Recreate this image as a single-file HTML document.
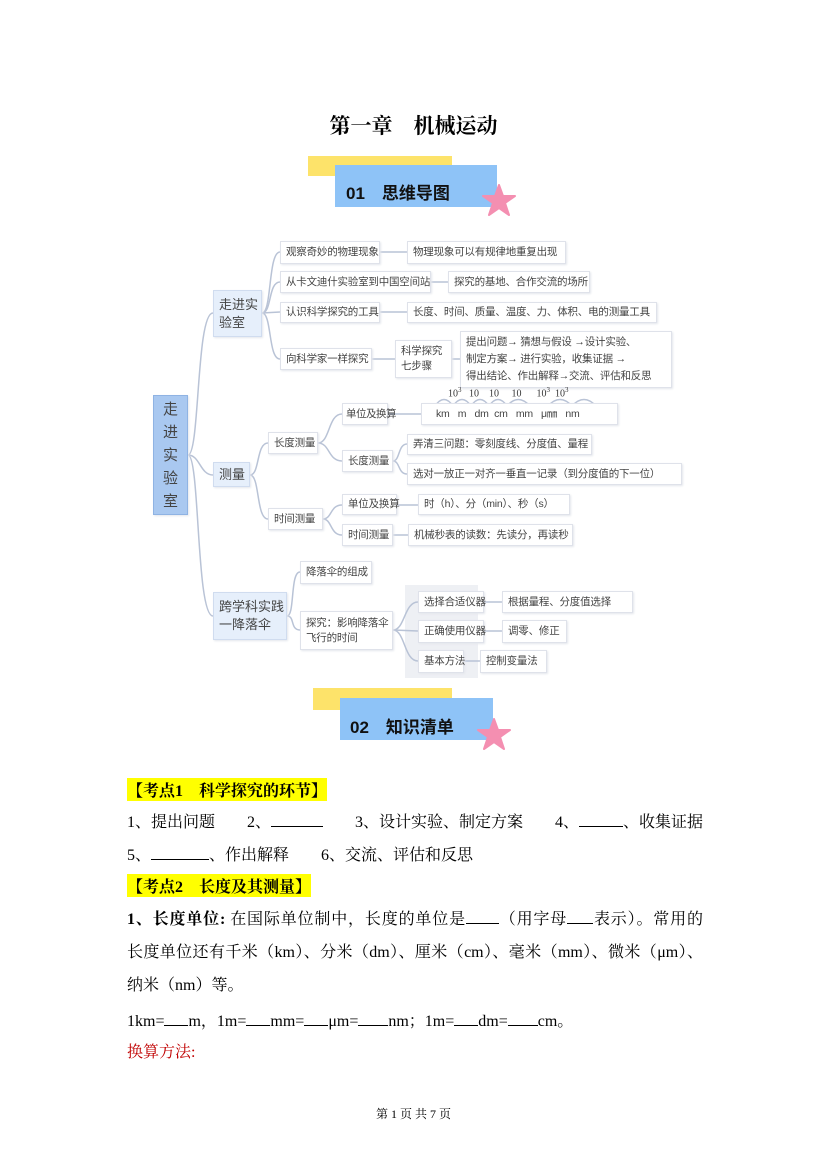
<!DOCTYPE html>
<html><head><meta charset="utf-8"><style>
body{margin:0;background:#fff;}
#p{position:relative;width:827px;height:1169px;overflow:hidden;font-family:"Liberation Serif","Noto Serif CJK SC",serif;color:#000;}
.b{position:absolute;box-sizing:border-box;border:1px solid #dfe2ea;background:#fff;box-shadow:1px 1px 2px #e4e6ec;font-family:"Liberation Sans","Noto Sans CJK SC",sans-serif;font-size:10.5px;color:#444;display:flex;align-items:center;padding-left:5px;line-height:15px;white-space:nowrap;letter-spacing:-0.2px;}
.l1{background:#e6effb;border-color:#d0dcef;font-size:13px;line-height:18px;letter-spacing:0;}
.t{position:absolute;font-size:16px;white-space:nowrap;font-family:"Liberation Serif","Noto Serif CJK SC",serif;}
.j{text-align:justify;text-align-last:justify;width:576px;}
.hl{background:#ffff00;font-weight:bold;}
.u{display:inline-block;border-bottom:1px solid #000;height:14px;vertical-align:baseline;}
</style></head><body><div id="p">
<div class="t" style="left:0;width:827px;text-align:center;top:110px;font-size:21px;font-weight:bold;">第一章　机械运动</div>

<div style="position:absolute;left:308px;top:156px;width:144px;height:20px;background:#fde36a;"></div>
<div style="position:absolute;left:335px;top:165px;width:162px;height:42px;background:#8ec3f7;"></div>
<div style="position:absolute;left:346px;top:179px;font:bold 17px 'Liberation Sans','Noto Sans CJK SC',sans-serif;color:#111;">01　思维导图</div>
<svg style="position:absolute;left:482px;top:184px" width="34" height="34" viewBox="0 0 34 34"><polygon points="17,1 21,12 33,12 23,19 27,31 17,24 7,31 11,19 1,12 13,12" fill="#f48fb1" stroke="#f48fb1" stroke-linejoin="round" stroke-width="2"/></svg>

<div style="position:absolute;left:313px;top:688px;width:139px;height:22px;background:#fde36a;"></div>
<div style="position:absolute;left:340px;top:698px;width:153px;height:42px;background:#8ec3f7;"></div>
<div style="position:absolute;left:350px;top:713px;font:bold 17px 'Liberation Sans','Noto Sans CJK SC',sans-serif;color:#111;">02　知识清单</div>
<svg style="position:absolute;left:477px;top:718px" width="34" height="34" viewBox="0 0 34 34"><polygon points="17,1 21,12 33,12 23,19 27,31 17,24 7,31 11,19 1,12 13,12" fill="#f48fb1" stroke="#f48fb1" stroke-linejoin="round" stroke-width="2"/></svg>

<div style="position:absolute;left:405px;top:585px;width:73px;height:93px;background:#eef0f4;"></div>

<svg style="position:absolute;left:0;top:0" width="827" height="700" fill="none" stroke="#b9c3d6" stroke-width="1.5">
<path d="M188 455 C200 455,196 313,213 313"/><path d="M188 455 C200 455,200 475,213 475"/><path d="M188 455 C200 455,196 616,213 616"/>
<path d="M262 313 C272 313,268 252,280 252"/><path d="M262 313 C272 313,268 282,280 282"/><path d="M262 313 L280 312"/><path d="M262 313 C272 313,268 359,280 359"/>
<path d="M250 475 C260 475,256 443,268 443"/><path d="M250 475 C260 475,256 519,268 519"/>
<path d="M318 443 C330 443,328 414,342 414"/><path d="M318 443 C330 443,328 461,342 461"/>
<path d="M393 461 C400 461,398 444,407 444"/><path d="M393 461 C400 461,398 474,407 474"/>
<path d="M323 519 C332 519,330 505,342 505"/><path d="M323 519 C332 519,330 535,342 535"/>
<path d="M287 616 C295 616,290 572,300 572"/><path d="M287 616 C295 616,290 630,300 630"/>
<path d="M393 630 C405 630,404 602,418 602"/><path d="M393 630 L418 631"/><path d="M393 630 C405 630,404 661,418 661"/>
<path d="M380 252H407M431 282H448M380 312H407M372 359H395M452 359H460M388 414H421M397 505H418M393 535H408M484 602H502M484 631H502M464 661H480"/>
<path d="M435 406 Q444 393 453 406M453 406 Q462 393 471 406M471 406 Q480 393 489 406M489 406 Q498 393 507 406M507 406 Q518 393 530 406M548 406 Q560 393 572 406M572 406 Q584 393 596 406"/>
</svg>

<div class="b l1" style="left:153px;top:395px;width:35px;height:120px;background:#a9c8f0;border-color:#8fb3e3;padding:0;justify-content:center;font-size:15px;line-height:23px;white-space:normal;text-align:center;">走<br>进<br>实<br>验<br>室</div>
<div class="b l1" style="left:213px;top:290px;width:49px;height:47px;">走进实<br>验室</div>
<div class="b l1" style="left:213px;top:462px;width:37px;height:25px;">测量</div>
<div class="b l1" style="left:213px;top:592px;width:74px;height:48px;">跨学科实践<br>一降落伞</div>

<div class="b" style="left:280px;top:241px;width:100px;height:23px;">观察奇妙的物理现象</div>
<div class="b" style="left:280px;top:271px;width:151px;height:22px;">从卡文迪什实验室到中国空间站</div>
<div class="b" style="left:280px;top:302px;width:100px;height:21px;">认识科学探究的工具</div>
<div class="b" style="left:280px;top:348px;width:92px;height:22px;">向科学家一样探究</div>
<div class="b" style="left:407px;top:241px;width:159px;height:23px;">物理现象可以有规律地重复出现</div>
<div class="b" style="left:448px;top:271px;width:142px;height:22px;">探究的基地、合作交流的场所</div>
<div class="b" style="left:407px;top:302px;width:250px;height:21px;">长度、时间、质量、温度、力、体积、电的测量工具</div>
<div class="b" style="left:395px;top:340px;width:57px;height:38px;">科学探究<br>七步骤</div>
<div class="b" style="left:460px;top:331px;width:212px;height:57px;line-height:17px;">提出问题→ 猜想与假设 →设计实验、<br>制定方案→ 进行实验，收集证据 →<br>得出结论、作出解释→交流、评估和反思</div>

<div class="b" style="left:268px;top:432px;width:50px;height:22px;">长度测量</div>
<div class="b" style="left:268px;top:508px;width:55px;height:22px;">时间测量</div>
<div class="b" style="left:342px;top:403px;width:46px;height:22px;padding-left:3px;letter-spacing:-0.5px;">单位及换算</div>
<div class="b" style="left:421px;top:403px;width:197px;height:22px;padding-left:14px;">km&nbsp;&nbsp;&nbsp;m&nbsp;&nbsp;&nbsp;dm&nbsp;&nbsp;cm&nbsp;&nbsp;&nbsp;mm&nbsp;&nbsp;&nbsp;μ㎜&nbsp;&nbsp;&nbsp;nm</div>
<div style="position:absolute;left:448px;top:386px;font:10px 'Liberation Serif',serif;color:#333;white-space:pre;">10<sup style="font-size:7px">3</sup>   10    10     10      10<sup style="font-size:7px">3</sup>  10<sup style="font-size:7px">3</sup></div>
<div class="b" style="left:342px;top:450px;width:51px;height:22px;">长度测量</div>
<div class="b" style="left:407px;top:434px;width:185px;height:21px;">弄清三问题：零刻度线、分度值、量程</div>
<div class="b" style="left:407px;top:463px;width:275px;height:22px;">选对一放正一对齐一垂直一记录（到分度值的下一位）</div>
<div class="b" style="left:342px;top:494px;width:55px;height:21px;">单位及换算</div>
<div class="b" style="left:418px;top:494px;width:152px;height:21px;">时（h）、分（min）、秒（s）</div>
<div class="b" style="left:342px;top:524px;width:51px;height:22px;">时间测量</div>
<div class="b" style="left:408px;top:524px;width:165px;height:22px;">机械秒表的读数：先读分，再读秒</div>

<div class="b" style="left:300px;top:561px;width:72px;height:23px;">降落伞的组成</div>
<div class="b" style="left:300px;top:611px;width:93px;height:39px;">探究：影响降落伞<br>飞行的时间</div>
<div class="b" style="left:418px;top:591px;width:66px;height:22px;">选择合适仪器</div>
<div class="b" style="left:502px;top:591px;width:131px;height:22px;">根据量程、分度值选择</div>
<div class="b" style="left:418px;top:620px;width:66px;height:23px;">正确使用仪器</div>
<div class="b" style="left:502px;top:620px;width:65px;height:23px;">调零、修正</div>
<div class="b" style="left:418px;top:650px;width:46px;height:23px;">基本方法</div>
<div class="b" style="left:480px;top:650px;width:67px;height:23px;">控制变量法</div>

<div class="t hl" style="left:127px;top:778px;">【考点1　科学探究的环节】</div>
<div class="t" style="left:127px;top:809px;">1、提出问题　　2、<span class="u" style="width:52px"></span>　　3、设计实验、制定方案　　4、<span class="u" style="width:44px"></span>、收集证据</div>
<div class="t" style="left:127px;top:842px;">5、<span class="u" style="width:58px"></span>、作出解释　　6、交流、评估和反思</div>
<div class="t hl" style="left:127px;top:874px;">【考点2　长度及其测量】</div>
<div class="t j" style="left:127px;top:906px;"><b>1、长度单位:</b> 在国际单位制中，长度的单位是<span class="u" style="width:33px"></span>（用字母<span class="u" style="width:26px"></span>表示）。常用的</div>
<div class="t j" style="left:127px;top:939px;">长度单位还有千米（km）、分米（dm）、厘米（cm）、毫米（mm）、微米（μm）、</div>
<div class="t" style="left:127px;top:972px;">纳米（nm）等。</div>
<div class="t" style="left:127px;top:1008px;">1km=<span class="u" style="width:24px"></span>m，1m=<span class="u" style="width:24px"></span>mm=<span class="u" style="width:24px"></span>μm=<span class="u" style="width:30px"></span>nm；1m=<span class="u" style="width:24px"></span>dm=<span class="u" style="width:30px"></span>cm。</div>
<div class="t" style="left:127px;top:1039px;color:#c00000;">换算方法:</div>
<div class="t" style="left:0;width:827px;text-align:center;top:1105px;font-size:12px;">第 1 页 共 7 页</div>
</div></body></html>
